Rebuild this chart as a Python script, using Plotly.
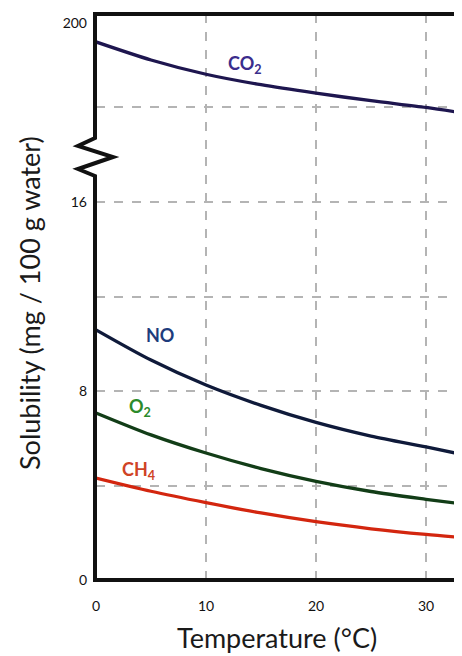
import plotly.graph_objects as go

# ---- data ----
temperature = [0, 5, 10, 15, 20, 25, 30, 33.3]
co2 = [195.5, 191.2, 187.8, 185.3, 183.3, 181.5, 179.9, 178.6]
no = [10.6, 9.32, 8.26, 7.4, 6.68, 6.1, 5.64, 5.32]
o2 = [7.08, 6.15, 5.38, 4.72, 4.18, 3.75, 3.42, 3.22]
ch4 = [4.32, 3.76, 3.28, 2.84, 2.47, 2.17, 1.93, 1.80]

x_ticks = [0, 10, 20, 30]
y_low_ticks = [0, 8, 16]
y_low_minor = [4, 12]
y_up_ticks = [200]
y_up_minor = [180]

# ---- layout geometry (reference pixel coords; page body has an 8px margin) ----
OFF = 8
W, H = 462 - OFF, 656 - OFF
Lr, Rr, Tr, Br = 96, 462, 14, 580  # plot-area edges in reference px
BREAK_Y = 157


def px(xp):
    return (xp - Lr) / (Rr - Lr)


def py(yp):
    return (Br - yp) / (Br - Tr)


low_top = py(BREAK_Y)

fig = go.Figure()

lw = 3.3
fig.add_trace(go.Scatter(x=temperature, y=co2, yaxis="y2", mode="lines",
                         line=dict(color="#1e164f", width=lw, shape="spline", smoothing=0.8),
                         showlegend=False, hoverinfo="skip"))
fig.add_trace(go.Scatter(x=temperature, y=no, mode="lines",
                         line=dict(color="#0f1a3a", width=lw, shape="spline", smoothing=0.8),
                         showlegend=False, hoverinfo="skip"))
fig.add_trace(go.Scatter(x=temperature, y=o2, mode="lines",
                         line=dict(color="#123d17", width=lw, shape="spline", smoothing=0.8),
                         showlegend=False, hoverinfo="skip"))
fig.add_trace(go.Scatter(x=temperature, y=ch4, mode="lines",
                         line=dict(color="#d3260f", width=lw, shape="spline", smoothing=0.8),
                         showlegend=False, hoverinfo="skip"))

tick_font = dict(family="Lato", size=14, color="#111111")
grid_col = "#b4b4b4"

fig.update_layout(
    width=W, height=H,
    margin=dict(l=Lr - OFF, r=W - (Rr - OFF), t=Tr - OFF, b=H - (Br - OFF)),
    paper_bgcolor="white", plot_bgcolor="white",
    xaxis=dict(range=[0, (Rr - Lr) / 11.0], tickvals=x_ticks,
               ticktext=[str(v) for v in x_ticks],
               showgrid=True, gridcolor=grid_col, griddash="dash", gridwidth=1.5,
               zeroline=False, showline=False, ticks="", tickfont=tick_font,
               ticklabelstandoff=16, anchor="y", fixedrange=True),
    yaxis=dict(domain=[0, low_top], range=[0, (Br - BREAK_Y) / 23.6],
               tickvals=y_low_ticks, ticktext=[str(v) for v in y_low_ticks],
               showgrid=True, gridcolor=grid_col, griddash="dash", gridwidth=1.5,
               minor=dict(tickvals=y_low_minor, showgrid=True, gridcolor=grid_col,
                          griddash="dash", gridwidth=1.5, ticks=""),
               zeroline=False, showline=False, ticks="", tickfont=tick_font,
               ticklabelstandoff=8, anchor="x"),
    yaxis2=dict(domain=[low_top, 1],
                range=[200 - (BREAK_Y - 23) / 4.2, 200 + (23 - Tr) / 4.2],
                tickvals=y_up_ticks, ticktext=[str(v) for v in y_up_ticks],
                showgrid=False,
                minor=dict(tickvals=y_up_minor, showgrid=True, gridcolor=grid_col,
                           griddash="dash", gridwidth=1.5, ticks=""),
                zeroline=False, showline=False, ticks="", tickfont=tick_font,
                ticklabelstandoff=8, anchor="x"),
)

# frame with zig-zag axis break
pts = [(Rr + 2, Tr), (95, Tr), (95, 138), (78, 146), (113, 157), (78, 169),
       (95, 176), (95, Br), (Rr + 2, Br)]
path = "M " + " L ".join(f"{px(a):.5f},{py(b):.5f}" for a, b in pts)
fig.add_shape(type="path", path=path, xref="paper", yref="paper",
              line=dict(color="#111111", width=4), layer="above")

# series labels
lab_font = dict(family="Lato", size=18)
common = dict(showarrow=False, xanchor="center", yanchor="middle")
fig.add_annotation(x=13.5, y=190.2, yref="y2", text="<b>CO<sub>2</sub></b>",
                   font=dict(lab_font, color="#3a2d8c"), **common)
fig.add_annotation(x=5.8, y=10.38, text="<b>NO</b>",
                   font=dict(lab_font, color="#1d3c7c"), **common)
fig.add_annotation(x=4.0, y=7.33, text="<b>O<sub>2</sub></b>",
                   font=dict(lab_font, color="#2b8a2b"), **common)
fig.add_annotation(x=3.9, y=4.66, text="<b>CH<sub>4</sub></b>",
                   font=dict(lab_font, color="#cf4326"), **common)

# axis titles
fig.add_annotation(x=px(277), y=py(637), xref="paper", yref="paper",
                   text="Temperature (°C)",
                   font=dict(family="Lato", size=27, color="#1a1a1a"), **common)
fig.add_annotation(x=px(29), y=py(303), xref="paper", yref="paper",
                   text="Solubility (mg / 100 g water)", textangle=-90,
                   font=dict(family="Lato", size=27, color="#1a1a1a"), **common)

fig.write_html("out.html")
